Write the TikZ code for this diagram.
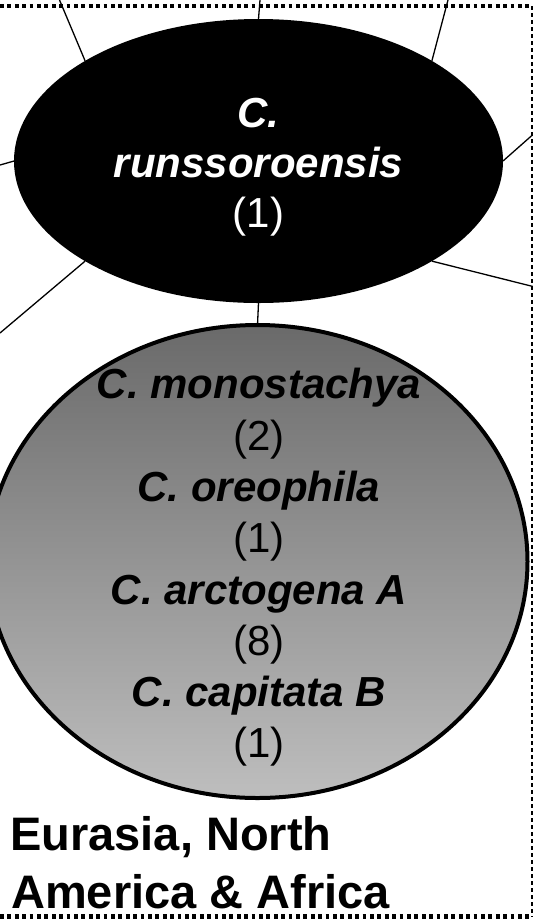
\documentclass[tikz,border=0pt]{standalone}
\usepackage{fontspec}
\setmainfont{Liberation Sans}
\usetikzlibrary{shapes.geometric}
\definecolor{gtop}{RGB}{106,106,106}
\definecolor{gbot}{RGB}{190,190,190}
\begin{document}
\begin{tikzpicture}[x=1pt,y=-1pt,
  blackell/.style={ellipse, fill=black, minimum width=489pt, minimum height=284pt, inner sep=0pt, outer sep=0pt},
  greyell/.style={ellipse, top color=gtop, bottom color=gbot, minimum width=540pt, minimum height=473pt, inner sep=0pt, outer sep=0pt},
  conn/.style={draw=black, line width=1.3pt},
  wname/.style={text=white, font=\fontsize{42}{50}\selectfont\bfseries\itshape, anchor=base, inner sep=0pt},
  wnum/.style={text=white, font=\fontsize{42}{50}\selectfont, anchor=base, inner sep=0pt},
  bname/.style={text=black, font=\fontsize{42}{50}\selectfont\bfseries\itshape, anchor=base, inner sep=0pt},
  bnum/.style={text=black, font=\fontsize{42}{50}\selectfont, anchor=base, inner sep=0pt},
  region/.style={text=black, font=\fontsize{47}{58}\selectfont\bfseries, anchor=base west, inner sep=0pt},
  outline/.style={draw=black, line width=4pt},
  dotline/.style={draw=black, line width=4.5pt, dash pattern=on 3.8pt off 3.6pt},
  dashline/.style={draw=black, line width=2pt, dash pattern=on 4pt off 3pt}
]
\useasboundingbox (0,0) rectangle (533,922);

% border
\coordinate (tl) at (0,6);
\coordinate (tr) at (531.5,6);
\coordinate (bl) at (0,916.5);
\coordinate (br) at (533,916.5);
\coordinate (rb) at (531.5,916.5);
\draw[dashline] (tr) -- (rb);
\draw[dotline] (tl) -- (tr);
\draw[dotline] (bl) -- (br);

% ellipses
\node[blackell] (ru) at (258.5,161) {};
\node[greyell] (gr) at (257.5,561.5) {};
\draw[outline] (gr.center) ellipse [x radius=270pt, y radius=236.5pt];

% outer ends of connectors
\coordinate (e1) at (59.5,0);
\coordinate (e2) at (260,0);
\coordinate (e3) at (448,0);
\coordinate (e4) at (533,134.5);
\coordinate (e5) at (533,286.5);
\coordinate (e6) at (0,165);
\coordinate (e7) at (0,333);

\draw[conn] (ru.150) -- (e1);
\draw[conn] (ru.90) -- (e2);
\draw[conn] (ru.30) -- (e3);
\draw[conn] (ru.0) -- (e4);
\draw[conn] (ru.-30) -- (e5);
\draw[conn] (ru.180) -- (e6);
\draw[conn] (ru.210) -- (e7);
\draw[conn] (ru.south) -- (gr.north);

% text in black ellipse
\node[wname] (r1) at (258.5,127) {C.};
\node[wname] (r2) at (258.5,177) {runssoroensis};
\node[wnum]  (r3) at (258.5,227) {(1)};

% text in grey ellipse
\node[bname] (g1) at (259,398.6) {C. monostachya};
\node[bnum]  (g2) at (259,450) {(2)};
\node[bname] (g3) at (259,501) {C. oreophila};
\node[bnum]  (g4) at (259,552.5) {(1)};
\node[bname] (g5) at (259,604.5) {C. arctogena A};
\node[bnum]  (g6) at (259,655.7) {(8)};
\node[bname] (g7) at (259,706.7) {C. capitata B};
\node[bnum]  (g8) at (259,757.8) {(1)};

% region label
\node[region] (l1) at (10,850.3) {Eurasia, North};
\node[region] (l2) at (11,908) {America \& Africa};
\end{tikzpicture}
\end{document}
